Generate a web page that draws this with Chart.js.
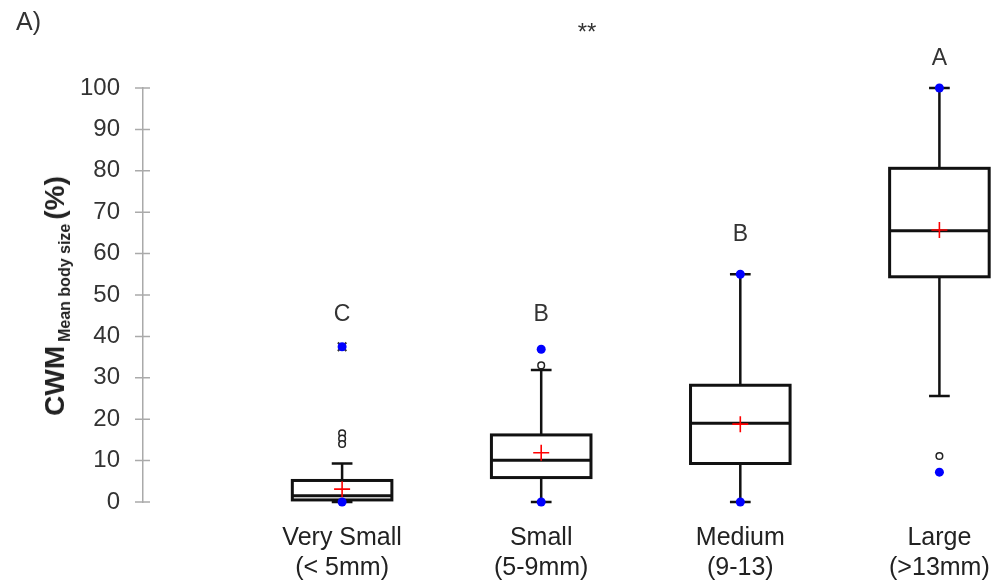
<!DOCTYPE html>
<html>
<head>
<meta charset="utf-8">
<title>CWM mean body size</title>
<script src="https://cdn.jsdelivr.net/npm/chart.js@4.4.0/dist/chart.umd.min.js"></script>
<style>
  body { margin: 0; background: #fff; }
  #wrap { position: relative; width: 994px; height: 580px; font-family: "Liberation Sans", Arial, sans-serif; color: #333; }
  #panel { position: absolute; left: 16px; top: 9px; font-size: 25px; line-height: 25px; }
  #stars { position: absolute; left: 557px; width: 60px; text-align: center; top: 20px; font-size: 24px; line-height: 24px; }
  #ytitle {
    position: absolute; left: 57px; top: 296px; white-space: nowrap;
    transform: translate(-50%, -50%) rotate(-90deg);
    font-weight: bold; font-size: 28px; line-height: 28px; color: #222;
  }
  #ytitle .sub { font-size: 16px; position: relative; top: 6px; margin: 0 4px 0 4px; }
</style>
</head>
<body>
<div id="wrap">
  <canvas id="myChart" width="994" height="580"></canvas>
  <div id="panel">A)</div>
  <div id="stars">**</div>
  <div id="ytitle">CWM<span class="sub">Mean body size</span>(%)</div>
</div>
<script>
// values
var categories = [["Very Small", "(< 5mm)"], ["Small", "(5-9mm)"], ["Medium", "(9-13)"], ["Large", "(>13mm)"]];
var q1 = [0.5, 5.9, 9.3, 54.4];
var median = [1.5, 10.1, 19.0, 65.5];
var q3 = [5.2, 16.2, 28.2, 80.6];
var whiskerLow = [0, 0, 0, 25.6];
var whiskerHigh = [9.3, 31.9, 55, 100];
var means = [3.1, 11.9, 18.8, 65.7];
var minValues = [0, 0, 0, 7.2];
var maxValues = [37.5, 36.9, 55, 100];
var outliers = [[16.6, 15.3, 14.0], [33], [], [11.1]];
var farOutliers = [[37.5], [], [], []];
var letters = ["C", "B", "B", "A"];
var letterY = [45.2, 45.2, 64.5, 107];
var yTicks = [0, 10, 20, 30, 40, 50, 60, 70, 80, 90, 100];

// drawing sizes (in x units)
var boxHalf = 0.25;
var capHalf = 0.052;

function points(values) {
  var out = [];
  for (var i = 0; i < values.length; i++) {
    out.push({ x: i + 1, y: values[i] });
  }
  return out;
}

function groupPoints(groups) {
  var out = [];
  for (var i = 0; i < groups.length; i++) {
    for (var j = 0; j < groups[i].length; j++) {
      out.push({ x: i + 1, y: groups[i][j] });
    }
  }
  return out;
}

var boxPlugin = {
  id: "boxes",
  beforeDatasetsDraw: function (chart) {
    var ctx = chart.ctx;
    var xs = chart.scales.x;
    var ys = chart.scales.y;
    ctx.save();
    ctx.strokeStyle = "#111";
    for (var i = 0; i < categories.length; i++) {
      var cx = xs.getPixelForValue(i + 1);
      var left = xs.getPixelForValue(i + 1 - boxHalf);
      var right = xs.getPixelForValue(i + 1 + boxHalf);
      var capL = xs.getPixelForValue(i + 1 - capHalf);
      var capR = xs.getPixelForValue(i + 1 + capHalf);
      var yq1 = ys.getPixelForValue(q1[i]);
      var yq3 = ys.getPixelForValue(q3[i]);
      var ymed = ys.getPixelForValue(median[i]);
      var ylo = ys.getPixelForValue(whiskerLow[i]);
      var yhi = ys.getPixelForValue(whiskerHigh[i]);

      // whiskers
      ctx.lineWidth = 2.5;
      ctx.beginPath();
      ctx.moveTo(cx, yq3); ctx.lineTo(cx, yhi);
      ctx.moveTo(capL, yhi); ctx.lineTo(capR, yhi);
      ctx.moveTo(cx, yq1); ctx.lineTo(cx, ylo);
      ctx.moveTo(capL, ylo); ctx.lineTo(capR, ylo);
      ctx.stroke();

      // box + median
      ctx.lineWidth = 3;
      ctx.fillStyle = "#fff";
      ctx.fillRect(left, yq3, right - left, yq1 - yq3);
      ctx.strokeRect(left, yq3, right - left, yq1 - yq3);
      ctx.beginPath();
      ctx.moveTo(left, ymed); ctx.lineTo(right, ymed);
      ctx.stroke();
    }

    // tick marks crossing the y axis
    ctx.strokeStyle = "#aaa";
    ctx.lineWidth = 1.5;
    var ax = chart.chartArea.left;
    ctx.beginPath();
    for (var k = 0; k < ys.ticks.length; k++) {
      var ty = ys.getPixelForValue(ys.ticks[k].value);
      ctx.moveTo(ax - 8, ty); ctx.lineTo(ax + 7, ty);
    }
    ctx.stroke();
    ctx.restore();
  },
  afterDatasetsDraw: function (chart) {
    var ctx = chart.ctx;
    var xs = chart.scales.x;
    var ys = chart.scales.y;
    ctx.save();
    ctx.font = "23px 'Liberation Sans', Arial, sans-serif";
    ctx.fillStyle = "#333";
    ctx.textAlign = "center";
    ctx.textBaseline = "middle";
    for (var i = 0; i < letters.length; i++) {
      ctx.fillText(letters[i], xs.getPixelForValue(i + 1), ys.getPixelForValue(letterY[i]));
    }
    ctx.restore();
  }
};

Chart.defaults.font.family = "'Liberation Sans', Arial, sans-serif";
Chart.defaults.color = "#333";

var ctx = document.getElementById("myChart").getContext("2d");
var myChart = new Chart(ctx, {
  type: "scatter",
  data: {
    datasets: [
      {
        // min / max values
        data: points(minValues).concat(points(maxValues)),
        pointStyle: "circle",
        pointRadius: 4.5,
        backgroundColor: "#0000ff",
        borderColor: "#0000ff",
        borderWidth: 0,
        clip: false
      },
      {
        data: groupPoints(outliers),
        pointStyle: "circle",
        pointRadius: 3.3,
        backgroundColor: "#fff",
        borderColor: "#222",
        borderWidth: 1.5,
        clip: false
      },
      {
        data: groupPoints(farOutliers),
        pointStyle: "crossRot",
        pointRadius: 6,
        borderColor: "#333",
        borderWidth: 2,
        clip: false
      },
      {
        // means
        data: points(means),
        pointStyle: "cross",
        pointRadius: 8,
        borderColor: "#ff0000",
        borderWidth: 1.6,
        clip: false
      }
    ]
  },
  plugins: [boxPlugin],
  options: {
    responsive: false,
    devicePixelRatio: 1,
    animation: false,
    layout: { padding: { top: 88, right: 0, bottom: 0, left: 0 } },
    plugins: {
      legend: { display: false },
      tooltip: { enabled: false }
    },
    scales: {
      x: {
        type: "linear",
        min: 0,
        max: 4.226,
        grid: { display: false },
        border: { display: false },
        afterBuildTicks: function (scale) {
          scale.ticks = categories.map(function (c, i) { return { value: i + 1 }; });
        },
        afterFit: function (scale) {
          scale.height = 78;
          scale.paddingLeft = 0;
          scale.paddingRight = 0;
        },
        ticks: {
          autoSkip: false,
          maxRotation: 0,
          padding: 13,
          color: "#222",
          font: { size: 25, lineHeight: 1.2 },
          callback: function (value) { return categories[value - 1]; }
        }
      },
      y: {
        min: 0,
        max: 100,
        grid: { display: false },
        border: { display: true, color: "#aaa", width: 1.5 },
        afterBuildTicks: function (scale) {
          scale.ticks = yTicks.map(function (v) { return { value: v }; });
        },
        afterFit: function (scale) { scale.width = 143; },
        ticks: {
          padding: 15,
          color: "#333",
          font: { size: 24 }
        }
      }
    }
  }
});
</script>
</body>
</html>
